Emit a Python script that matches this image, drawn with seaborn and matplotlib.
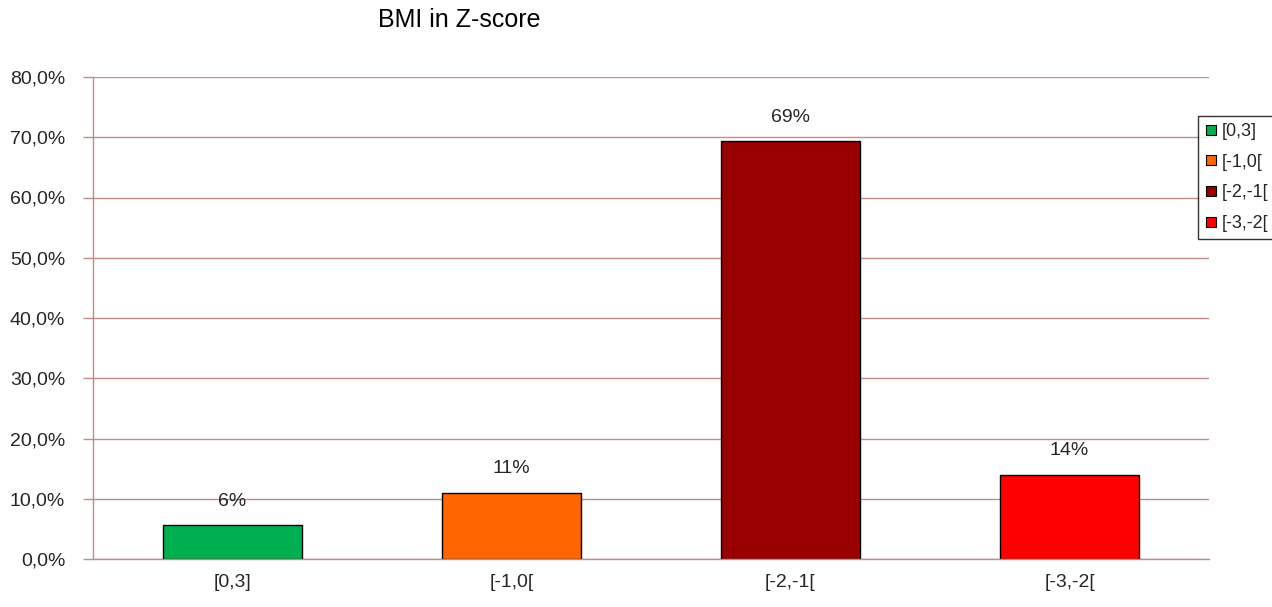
import matplotlib
matplotlib.use("Agg")
import matplotlib.pyplot as plt
from matplotlib.lines import Line2D
from matplotlib.ticker import FixedLocator, FuncFormatter
import seaborn as sns
import pandas as pd

# BMI z-score classes and share of subjects (%)
categories = ["[0,3]", "[-1,0[", "[-2,-1[", "[-3,-2["]
shares = [5.6, 11.0, 69.4, 14.0]
colors = ["#00B050", "#FF6600", "#990000", "#FF0000"]
y_ticks = [0, 10, 20, 30, 40, 50, 60, 70, 80]

sns.set_theme(style="white")
plt.rcParams["font.family"] = ["Liberation Sans", "DejaVu Sans"]

grid_col = "#c08c8c"
text_col = "#262626"
fs = 14

fig = plt.figure(figsize=(12.72, 6.07), dpi=100)
ax = fig.add_axes([93 / 1272, 48 / 607, (1209 - 93) / 1272, (559 - 77) / 607])

df = pd.DataFrame({"cat": categories, "share": shares})
sns.barplot(data=df, x="cat", y="share", hue="cat", palette=colors,
            dodge=False, width=0.5, edgecolor="black", linewidth=1.0,
            legend=False, ax=ax, saturation=1)

ax.set_xlim(-0.5, len(categories) - 0.5)
ax.set_ylim(0, 80)
ax.yaxis.set_major_locator(FixedLocator(y_ticks))
ax.yaxis.set_major_formatter(FuncFormatter(lambda v, p: f"{v:.1f}%".replace(".", ",")))
ax.grid(axis="y", color=grid_col, linewidth=1.0)
ax.set_axisbelow(True)

for s in ["top", "right"]:
    ax.spines[s].set_visible(False)
for s in ["left", "bottom"]:
    ax.spines[s].set_color(grid_col)
    ax.spines[s].set_linewidth(1.0)

ax.set_xlabel("")
ax.set_ylabel("")

# category labels centred, tick marks on the category boundaries
ax.tick_params(axis="x", which="major", length=0, pad=11, labelsize=fs, labelcolor=text_col)
ax.set_xticks([i - 0.5 for i in range(len(categories) + 1)], minor=True)
ax.tick_params(axis="x", which="minor", length=7, width=1.0, color=grid_col, direction="out")
ax.tick_params(axis="y", length=7, width=1.0, color=grid_col, direction="out",
               pad=13, labelsize=fs, labelcolor=text_col, left=True)

for i, v in enumerate(shares):
    ax.annotate(f"{v:.0f}%", xy=(i, v), xytext=(0, 11), textcoords="offset points",
                ha="center", va="bottom", fontsize=fs, color=text_col)

fig.text(459 / 1272, 1 - 20 / 607, "BMI in Z-score", ha="center", va="center",
         fontsize=18, color="black")

handles = [Line2D([0], [0], marker="s", linestyle="", markersize=7.5,
                  markerfacecolor=c, markeredgecolor="black", markeredgewidth=0.8)
           for c in colors]
leg = fig.legend(handles, categories, loc="upper left",
                 bbox_to_anchor=(1198 / 1272, 1 - 116 / 607), frameon=True,
                 fancybox=False, fontsize=13, handlelength=0.6, handletextpad=0.3,
                 labelspacing=0.75, borderpad=0.4, borderaxespad=0)
leg.get_frame().set_edgecolor("black")
leg.get_frame().set_linewidth(1.0)
for t in leg.get_texts():
    t.set_color(text_col)

fig.savefig("out.png", dpi=100, facecolor="white")
